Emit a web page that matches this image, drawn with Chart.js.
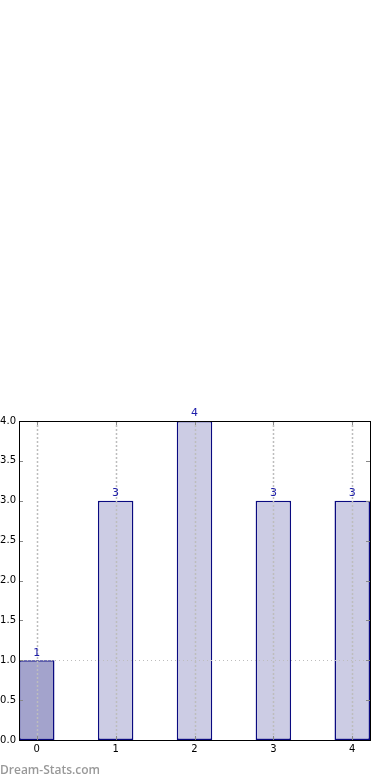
<!DOCTYPE html>
<html><head><meta charset="utf-8">
<script src="https://cdn.jsdelivr.net/npm/chart.js@4"></script>
<style>
html,body{margin:0;padding:0;background:#fff;width:390px;height:780px;overflow:hidden}
#wrap{position:absolute;left:0;top:0;width:390px;height:780px}
#wm{position:absolute;left:0;top:761px;font:600 12px "Open Sans",sans-serif;color:#999;letter-spacing:0}
</style></head>
<body>
<div id="wrap"><canvas id="c" width="390" height="780"></canvas></div>
<div id="wm">Dream-Stats.com</div>
<script>
const categories = [0, 1, 2, 3, 4];
const values = [1, 3, 4, 3, 3];
const yTicks = [0, 0.5, 1, 1.5, 2, 2.5, 3, 3.5, 4];
const refLine = 1;

const barColors = values.map((v, i) => i === 0 ? '#a3a3cc' : '#ccccE4');

const overlay = {
  id: 'overlay',
  afterDatasetsDraw(chart) {
    const {ctx, chartArea: a, scales: {x, y}} = chart;
    ctx.save();
    ctx.strokeStyle = '#bdbdbd';
    ctx.lineWidth = 1.5;
    ctx.setLineDash([2, 2]);
    categories.forEach(c => {
      const p = Math.round(x.getPixelForValue(c)) + 0.5;
      ctx.beginPath(); ctx.moveTo(p, a.top); ctx.lineTo(p, a.bottom); ctx.stroke();
    });
    ctx.lineWidth = 1;
    ctx.setLineDash([1, 3]);
    const yr = Math.round(y.getPixelForValue(refLine)) + 0.5;
    ctx.beginPath(); ctx.moveTo(a.left, yr); ctx.lineTo(a.right, yr); ctx.stroke();
    ctx.setLineDash([]);
    ctx.strokeStyle = '#888';
    yTicks.forEach(t => {
      const p = Math.round(y.getPixelForValue(t)) + 0.5;
      ctx.beginPath(); ctx.moveTo(a.left, p); ctx.lineTo(a.left + 4, p); ctx.stroke();
      ctx.beginPath(); ctx.moveTo(a.right, p); ctx.lineTo(a.right - 4, p); ctx.stroke();
    });
    categories.forEach(c => {
      const p = Math.round(x.getPixelForValue(c)) + 0.5;
      ctx.beginPath(); ctx.moveTo(p, a.bottom); ctx.lineTo(p, a.bottom - 4); ctx.stroke();
      ctx.beginPath(); ctx.moveTo(p, a.top); ctx.lineTo(p, a.top + 4); ctx.stroke();
    });
    ctx.fillStyle = '#1e1eaa';
    ctx.font = '11px "DejaVu Sans", sans-serif';
    ctx.textAlign = 'center';
    ctx.textBaseline = 'bottom';
    values.forEach((v, i) => {
      const px = x.getPixelForValue(categories[i]);
      const py = y.getPixelForValue(v);
      ctx.fillText(String(v), px, py - 2);
    });
    ctx.strokeStyle = '#000';
    ctx.lineWidth = 1;
    ctx.strokeRect(Math.round(a.left) + 0.5, Math.round(a.top) + 0.5, Math.round(a.right - a.left), Math.round(a.bottom - a.top));
    ctx.restore();
  }
};

new Chart(document.getElementById('c'), {
  type: 'bar',
  data: {
    datasets: [{
      data: categories.map((c, i) => ({x: c, y: values[i]})),
      backgroundColor: barColors,
      borderColor: '#0a0a80',
      borderWidth: 1.5,
      borderSkipped: false,
      categoryPercentage: 1,
      barPercentage: 0.45
    }]
  },
  options: {
    responsive: false,
    animation: false,
    layout: {padding: {left: 0, right: 20, top: 421, bottom: 0}},
    plugins: {legend: {display: false}, tooltip: {enabled: false}},
    scales: {
      x: {
        type: 'linear',
        offset: false,
        min: -0.225, max: 4.225,
        afterBuildTicks: s => { s.ticks = categories.map(v => ({value: v})); },
        afterFit: s => { s.height = 40; },
        grid: {display: false, offset: false, drawTicks: false},
        border: {display: false},
        ticks: {
          padding: 3,
          color: '#000',
          font: {family: 'DejaVu Sans', size: 10},
          callback: v => String(v)
        }
      },
      y: {
        min: 0, max: 4,
        afterBuildTicks: s => { s.ticks = yTicks.map(v => ({value: v})); },
        afterFit: s => { s.width = 19; },
        grid: {display: false, drawTicks: false},
        border: {display: false},
        ticks: {
          padding: 3,
          color: '#000',
          font: {family: 'DejaVu Sans', size: 10},
          callback: v => v.toFixed(1)
        }
      }
    }
  },
  plugins: [overlay]
});
</script>
</body></html>
